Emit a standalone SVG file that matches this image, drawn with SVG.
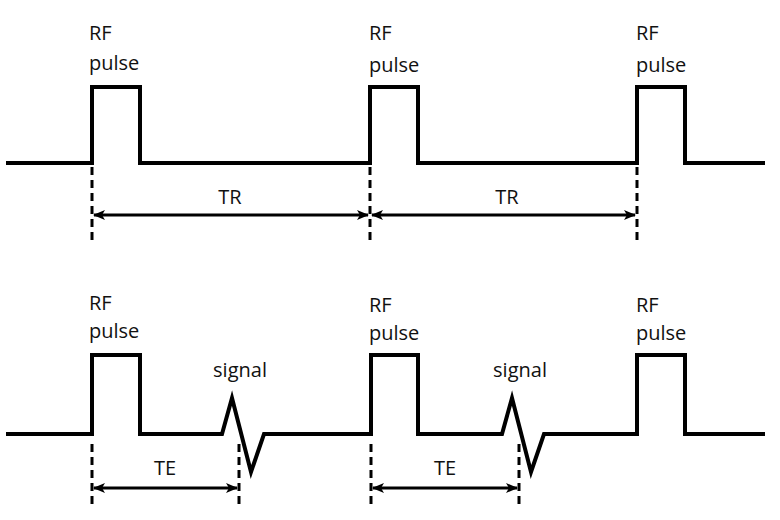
<svg xmlns="http://www.w3.org/2000/svg" width="780" height="520" viewBox="0 0 780 520">
<style>
.wave{fill:none;stroke:#000;stroke-width:4;stroke-linejoin:miter}
.dash{stroke:#000;stroke-width:3;stroke-dasharray:8 5}
.arr{stroke:#000;stroke-width:3;fill:none}
text{font-family:"Open Sans","Liberation Sans",sans-serif;font-size:20px;fill:#111}
</style>
<defs>
<marker id="ah" viewBox="0 0 12 10" refX="11" refY="5" markerWidth="12" markerHeight="10" markerUnits="userSpaceOnUse" orient="auto-start-reverse">
<path d="M0,0 L12,5 L0,10 L3,5 Z" fill="#000"/>
</marker>
</defs>
<g id="top-wave">
<path class="wave" d="M6,163 H92 V87 H140 V163 H370 V87 H418 V163 H637 V87 H685 V163 H765"/>
</g>
<g id="bottom-wave">
<path class="wave" d="M6,434 H92 V355 H140 V434 H222 L232,398 L251,472 L264,434 H371 V355 H418 V434 H502 L512,398 L531,472 L544,434 H637 V355 H685 V434 H765"/>
</g>
<g id="labels">
<text x="89" y="40">RF</text><text x="89" y="70">pulse</text>
<text x="369" y="40">RF</text><text x="369" y="72">pulse</text>
<text x="636" y="40">RF</text><text x="636" y="72">pulse</text>
<text x="89" y="310">RF</text><text x="89" y="338">pulse</text>
<text x="369" y="312">RF</text><text x="369" y="340">pulse</text>
<text x="636" y="312">RF</text><text x="636" y="340">pulse</text>
<text x="240" y="377" text-anchor="middle">signal</text>
<text x="520" y="377" text-anchor="middle">signal</text>
<text x="230" y="204" text-anchor="middle">TR</text>
<text x="507" y="204" text-anchor="middle">TR</text>
<text x="165" y="475" text-anchor="middle">TE</text>
<text x="445" y="475" text-anchor="middle">TE</text>
</g>
<g id="connectors">
<line class="dash" x1="92" y1="167" x2="92" y2="240"/>
<line class="dash" x1="370" y1="167" x2="370" y2="240"/>
<line class="dash" x1="637" y1="167" x2="637" y2="240"/>
<line class="dash" x1="92" y1="444" x2="92" y2="506"/>
<line class="dash" x1="371" y1="444" x2="371" y2="506"/>
<line class="dash" x1="239" y1="444" x2="239" y2="506"/>
<line class="dash" x1="519" y1="444" x2="519" y2="506"/>
<line class="arr" x1="94" y1="215" x2="368" y2="215" marker-start="url(#ah)" marker-end="url(#ah)"/>
<line class="arr" x1="372" y1="215" x2="635" y2="215" marker-start="url(#ah)" marker-end="url(#ah)"/>
<line class="arr" x1="94" y1="488" x2="237" y2="488" marker-start="url(#ah)" marker-end="url(#ah)"/>
<line class="arr" x1="373" y1="488" x2="517" y2="488" marker-start="url(#ah)" marker-end="url(#ah)"/>
</g>
</svg>
